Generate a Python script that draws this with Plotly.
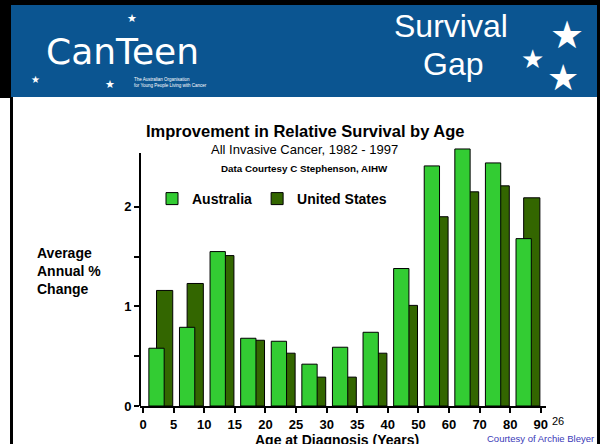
import plotly.graph_objects as go

# ---- data ----
age_ticks = ["0", "5", "10", "15", "20", "25", "30", "35", "40", "50", "60", "70", "80", "90"]
australia = [0.58, 0.79, 1.55, 0.68, 0.65, 0.42, 0.59, 0.74, 1.38, 2.41, 2.58, 2.44, 1.68]
united_states = [1.16, 1.23, 1.51, 0.66, 0.53, 0.29, 0.29, 0.53, 1.01, 1.90, 2.15, 2.21, 2.09]
groups = list(range(len(australia)))

# ---- geometry helpers (pixel -> paper) ----
W, H = 600, 444
L, R, T, B = 140, 546, 145, 406


def px(x):
    return (x - L) / (R - L)


def py(y):
    return (B - y) / (B - T)


FONT = "Arial, Liberation Sans, Helvetica, sans-serif"
BLUE = "#0b5591"

fig = go.Figure()
fig.add_trace(go.Bar(
    x=groups, y=united_states, name="United States",
    offset=0.44, width=0.53,
    marker=dict(color="#336600", line=dict(color="black", width=1)),
    legendrank=2,
))
fig.add_trace(go.Bar(
    x=groups, y=australia, name="Australia",
    offset=0.19, width=0.5,
    marker=dict(color="#33cc33", line=dict(color="black", width=1)),
    legendrank=1,
))

shapes = [
    # slide frame
    dict(type="rect", xref="paper", yref="paper", x0=px(0), x1=px(600), y0=py(0), y1=py(5),
         fillcolor="black", line_width=0, layer="below"),
    dict(type="rect", xref="paper", yref="paper", x0=px(0), x1=px(11), y0=py(0), y1=py(98),
         fillcolor="black", line_width=0, layer="below"),
    dict(type="rect", xref="paper", yref="paper", x0=px(11), x1=px(597), y0=py(5), y1=py(97),
         fillcolor=BLUE, line_width=0, layer="below"),
    dict(type="rect", xref="paper", yref="paper", x0=px(10), x1=px(13), y0=py(97), y1=py(444),
         fillcolor="black", line_width=0, layer="below"),
    dict(type="rect", xref="paper", yref="paper", x0=px(597), x1=px(600), y0=py(0), y1=py(444),
         fillcolor="black", line_width=0, layer="below"),
    # y-axis line (shorter than plot area)
    dict(type="line", xref="paper", yref="y", x0=0, x1=0, y0=0, y1=2.54,
         line=dict(color="black", width=2)),
]

annotations = [
    dict(text="<b>Improvement in Relative Survival by Age</b>", x=px(305), y=py(131),
         font=dict(size=16.5, color="black", family=FONT)),
    dict(text="All Invasive Cancer, 1982 - 1997", x=px(304), y=py(149),
         font=dict(size=13, color="black", family=FONT)),
    dict(text="<b>Data Courtesy C Stephenson, AIHW</b>", x=px(304), y=py(168),
         font=dict(size=9.8, color="black", family=FONT)),
    dict(text="<b>Average<br>Annual %<br>Change</b>", x=px(35), y=py(243), xanchor="left",
         yanchor="top", align="left", font=dict(size=14, color="black", family=FONT)),
    dict(text="<b>Age at Diagnosis (Years)</b>", x=px(337), y=py(440),
         font=dict(size=14, color="black", family=FONT)),
    dict(text="26", x=px(558), y=py(421), font=dict(size=11, color="black", family=FONT)),
    dict(text="Courtesy of Archie Bleyer", x=px(596), y=py(438), xanchor="right",
         font=dict(size=9.5, color="#3a3ab8", family=FONT)),
    # header
    dict(text="Survival", x=px(451), y=py(26), font=dict(size=32, color="white", family=FONT)),
    dict(text="Gap", x=px(453), y=py(64), font=dict(size=32, color="white", family=FONT)),
    dict(text="★", x=px(567), y=py(35), font=dict(size=38, color="white", family="DejaVu Sans")),
    dict(text="★", x=px(532), y=py(59), font=dict(size=26, color="white", family="DejaVu Sans")),
    dict(text="★", x=px(563), y=py(77), font=dict(size=36, color="white", family="DejaVu Sans")),
    # logo
    dict(text="CanTeen", x=px(122), y=py(51),
         font=dict(size=36, color="white", family="DejaVu Sans")),
    dict(text="The Australian Organisation<br>for Young People Living with Cancer",
         x=px(132), y=py(82), xanchor="left", align="left",
         font=dict(size=4.5, color="white", family=FONT)),
    dict(text="★", x=px(132), y=py(19), font=dict(size=11, color="white", family="DejaVu Sans")),
    dict(text="★", x=px(36), y=py(80), font=dict(size=10, color="white", family="DejaVu Sans")),
    dict(text="★", x=px(110), y=py(84), font=dict(size=11, color="white", family="DejaVu Sans")),
]
for a in annotations:
    a.setdefault("xref", "paper")
    a.setdefault("yref", "paper")
    a.setdefault("showarrow", False)
    a.setdefault("xanchor", "center")
    a.setdefault("yanchor", "middle")

fig.update_layout(
    width=W, height=H,
    margin=dict(l=L, r=W - R, t=T, b=H - B, pad=0),
    paper_bgcolor="white", plot_bgcolor="white",
    barmode="overlay",
    showlegend=True,
    legend=dict(orientation="h", x=px(152), y=py(183), xanchor="left", yanchor="top",
                font=dict(size=14, color="black", family=FONT, weight="bold"),
                bgcolor="rgba(0,0,0,0)", traceorder="normal"),
    font=dict(family=FONT, color="black"),
    xaxis=dict(range=[-0.1, 13.17], tickmode="array", tickvals=list(range(len(age_ticks))),
               ticktext=[f"<b>{t}</b>" for t in age_ticks], ticks="outside", ticklen=5,
               tickwidth=1.5, tickcolor="black", showline=True, linecolor="black", linewidth=2,
               showgrid=False, zeroline=False, tickfont=dict(size=13, family=FONT, color="black")),
    yaxis=dict(range=[0, 2.62], tickmode="array", tickvals=[0, 0.5, 1, 1.5, 2],
               ticktext=["<b>0</b>", "", "<b>1</b>", "", "<b>2</b>"], ticks="outside", ticklen=5,
               tickwidth=1.5, tickcolor="black", showline=False, showgrid=False, zeroline=False,
               tickfont=dict(size=13, family=FONT, color="black")),
    shapes=shapes,
    annotations=annotations,
)

fig.write_html("out.html", config={"displayModeBar": False},
               post_script="document.body.style.margin='0px';")
